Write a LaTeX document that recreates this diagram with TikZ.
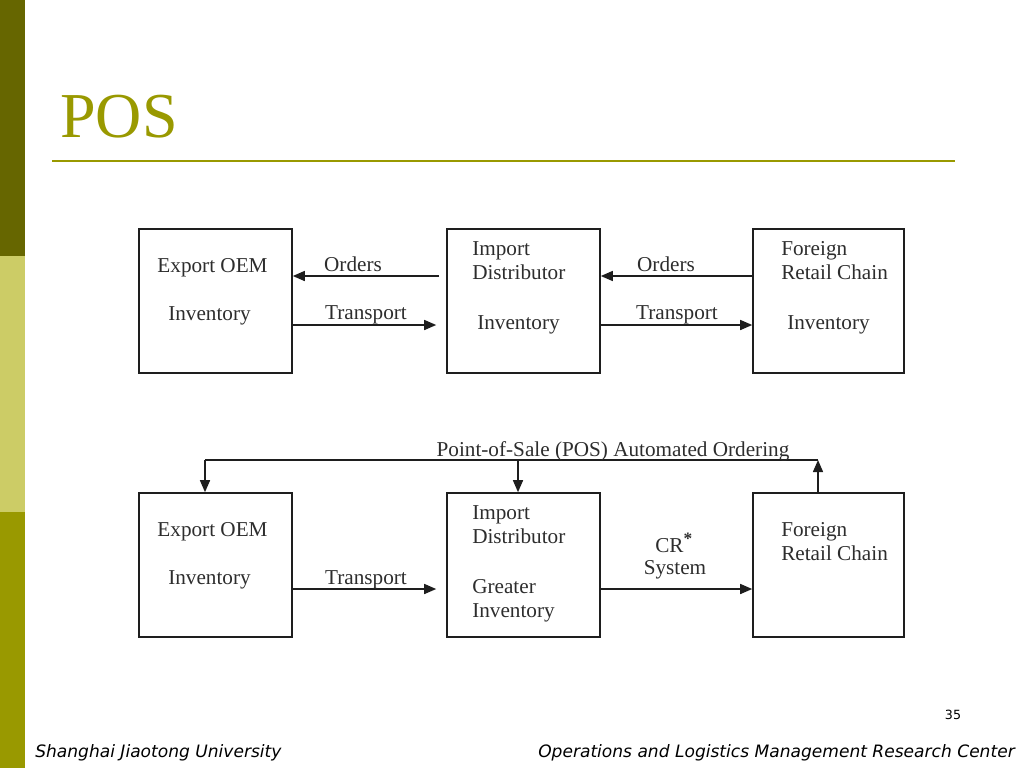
\documentclass[tikz,border=0pt]{standalone}
\usepackage{fontspec}
\setmainfont{Liberation Serif}
\newfontfamily\footfont{DejaVu Sans}
\usetikzlibrary{arrows.meta,calc}
\definecolor{olivedark}{RGB}{102,102,0}
\definecolor{olivelight}{RGB}{204,204,102}
\definecolor{olivemid}{RGB}{153,153,0}
\definecolor{titlecol}{RGB}{153,153,0}
\definecolor{txtgray}{RGB}{45,45,45}
\definecolor{linegray}{RGB}{30,30,30}
\tikzset{
  box/.style={draw=linegray, line width=1.2pt, minimum width=114.75pt, minimum height=108pt, inner sep=0pt},
  lbl/.style={text=txtgray, font=\fontsize{15.9pt}{18pt}\selectfont, inner sep=0pt, anchor=base},
  lbll/.style={lbl, anchor=base west},
  arr/.style={draw=linegray, line width=1.1pt, -{Triangle[length=9pt,width=7.5pt]}},
  ln/.style={draw=linegray, line width=1.1pt},
  foot/.style={font=\footfont\itshape\fontsize{12.8pt}{14pt}\selectfont, inner sep=0pt, anchor=base west}
}
\begin{document}
\begin{tikzpicture}[x=0.75pt,y=-0.75pt]
\useasboundingbox (0,0) rectangle (1024,768);
% sidebar
\fill[olivedark] (0,0) rectangle (25,256);
\fill[olivelight] (0,256) rectangle (25,512);
\fill[olivemid] (0,512) rectangle (25,768);
% title
\node[anchor=base west, inner sep=0pt, text=titlecol, font=\fontsize{48pt}{52pt}\selectfont] (title) at (60,137) {POS};
\draw[titlecol, line width=2pt] (52,161) -- (955,161);

% ---------- top row ----------
\node[box] (b1) at (215.5,301) {};
\node[box] (b2) at (523.5,301) {};
\node[box, minimum width=113.25pt] (b3) at (828.5,301) {};
\coordinate (yo) at (0,276);
\coordinate (yt) at (0,325);

\node[lbl] (b1a) at (212.5,272) {Export OEM};
\node[lbl] (b1b) at (209.5,320) {Inventory};
\node[lbll] (b2a) at (472,255) {Import};
\node[lbll] (b2b) at (472,279) {Distributor};
\node[lbll] (b2c) at (477,329) {Inventory};
\node[lbll] (b3a) at (781,255) {Foreign};
\node[lbll] (b3b) at (781,279) {Retail Chain};
\node[lbll] (b3c) at (787,329) {Inventory};

\draw[arr, shorten <=5.25pt] (b2.west |- yo) -- (b1.east |- yo);
\draw[arr, shorten >=7.5pt] (b1.east |- yt) -- (b2.west |- yt);
\draw[arr] (b3.west |- yo) -- (b2.east |- yo);
\draw[arr] (b2.east |- yt) -- (b3.west |- yt);
\node[lbl] (o1) at (353,271) {Orders};
\node[lbl] (t1) at (366,319) {Transport};
\node[lbl] (o2) at (666,271) {Orders};
\node[lbl] (t2) at (677,319) {Transport};

% ---------- bottom row ----------
\node[box] (c1) at (215.5,565) {};
\node[box] (c2) at (523.5,565) {};
\node[box, minimum width=113.25pt] (c3) at (828.5,565) {};
\coordinate (yb) at (0,589);

\node[lbl] (c1a) at (212.5,536) {Export OEM};
\node[lbl] (c1b) at (209.5,584) {Inventory};
\node[lbll] (c2a) at (472,519) {Import};
\node[lbll] (c2b) at (472,543) {Distributor};
\node[lbll] (c2c) at (472,593) {Greater};
\node[lbll] (c2d) at (472,617) {Inventory};
\node[lbll] (c3a) at (781,536) {Foreign};
\node[lbll] (c3b) at (781,560) {Retail Chain};

\draw[arr, shorten >=7.5pt] (c1.east |- yb) -- (c2.west |- yb);
\draw[arr] (c2.east |- yb) -- (c3.west |- yb);
\node[lbl] (t3) at (366,584) {Transport};
\node[lbll] (cr) at (655,552) {CR\raisebox{6pt}{\fontsize{13pt}{13pt}\selectfont\textbf{*}}};
\node[lbl] (sys) at (675,574) {System};

\coordinate (f1) at (205,460);
\coordinate (f2) at (518,460);
\coordinate (f3) at (818,460);
\draw[arr] (f3 |- c3.north) -- (f3);
\draw[ln] (f3) -- (f1);
\draw[arr] (f1) -- (f1 |- c1.north);
\draw[arr] (f2) -- (f2 |- c2.north);
\node[lbl] (pos) at (613,456) {Point-of-Sale (POS) Automated Ordering};

% footer
\node[anchor=base, inner sep=0pt, font=\footfont\fontsize{9.5pt}{11pt}\selectfont] (pg) at (953,719) {35};
\node[foot] (fl) at (35,757) {Shanghai Jiaotong University};
\node[foot, anchor=base east] (fr) at (1015,757) {Operations and Logistics Management Research Center};
\end{tikzpicture}
\end{document}
